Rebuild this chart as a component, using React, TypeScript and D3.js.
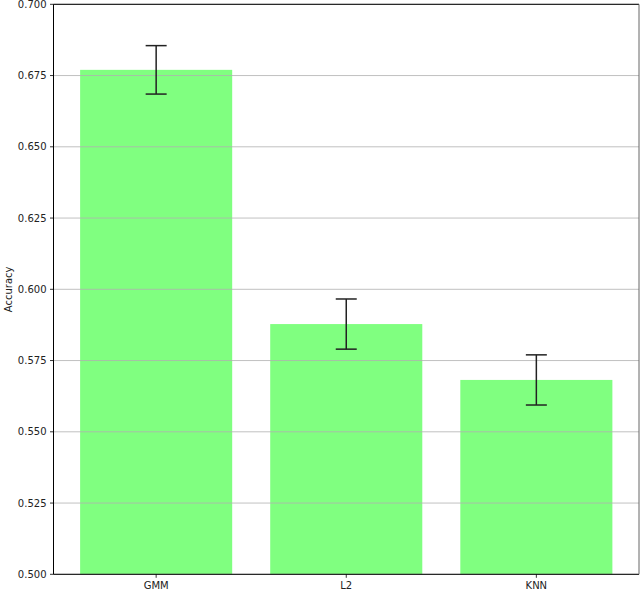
import React from "react";
import * as d3 from "d3";

const categories = ["GMM", "L2", "KNN"];
const accuracy = [0.677, 0.5878, 0.5682];
const errors = [0.0085, 0.0088, 0.0088];
const yTicks = [0.5, 0.525, 0.55, 0.575, 0.6, 0.625, 0.65, 0.675, 0.7];

const W = 640, H = 591;
const M = { left: 53.5, right: 639, top: 4.3, bottom: 574.3 };

export default function App() {
  const x = d3.scaleLinear().domain([-0.54, categories.length - 1 + 0.54]).range([M.left, M.right]);
  const y = d3.scaleLinear().domain([0.5, 0.7]).range([M.bottom, M.top]);
  const bw = x(0.8) - x(0);
  const font = "DejaVu Sans, sans-serif";
  return (
    <svg width={W} height={H} style={{ position: "fixed", left: 0, top: 0 }} fontFamily={font}>
      <rect width={W} height={H} fill="#fff" />
      {categories.map((c, i) => (
        <rect key={c} x={x(i) - bw / 2} y={y(accuracy[i])} width={bw} height={y(0.5) - y(accuracy[i])} fill="#80ff80" />
      ))}
      {yTicks.map((t) => (
        <line key={"g" + t} x1={M.left} x2={M.right} y1={y(t)} y2={y(t)} stroke="#b0b0b0" strokeWidth={0.8} />
      ))}
      {categories.map((c, i) => {
        const cx = x(i);
        const y1 = y(accuracy[i] + errors[i]);
        const y2 = y(accuracy[i] - errors[i]);
        return (
          <g key={"e" + c} stroke="#222" strokeWidth={1.5}>
            <line x1={cx} x2={cx} y1={y1} y2={y2} />
            <line x1={cx - 10.5} x2={cx + 10.5} y1={y1} y2={y1} />
            <line x1={cx - 10.5} x2={cx + 10.5} y1={y2} y2={y2} />
          </g>
        );
      })}
      <g stroke="#000" strokeWidth={1} fill="none">
        <line x1={M.left} x2={M.left} y1={M.top} y2={M.bottom} />
        <line x1={M.left} x2={M.right} y1={M.bottom} y2={M.bottom} />
        <line x1={M.left} x2={M.right} y1={M.top} y2={M.top} />
        <line x1={M.right} x2={M.right} y1={M.top} y2={M.bottom} stroke="#666" />
      </g>
      {yTicks.map((t) => (
        <g key={"t" + t}>
          <line x1={M.left - 3.5} x2={M.left} y1={y(t)} y2={y(t)} stroke="#000" strokeWidth={0.8} />
          <text x={M.left - 7} y={y(t)} dy="0.35em" textAnchor="end" fontSize={10} fill="#222">
            {t.toFixed(3)}
          </text>
        </g>
      ))}
      {categories.map((c, i) => (
        <g key={"x" + c}>
          <line x1={x(i)} x2={x(i)} y1={M.bottom} y2={M.bottom + 3.5} stroke="#000" strokeWidth={0.8} />
          <text x={x(i)} y={M.bottom + 15} textAnchor="middle" fontSize={10} fill="#222">
            {c}
          </text>
        </g>
      ))}
      <text transform={`translate(8.5,${(M.top + M.bottom) / 2}) rotate(-90)`} textAnchor="middle" dy="0.35em" fontSize={10} fill="#222">
        Accuracy
      </text>
    </svg>
  );
}
